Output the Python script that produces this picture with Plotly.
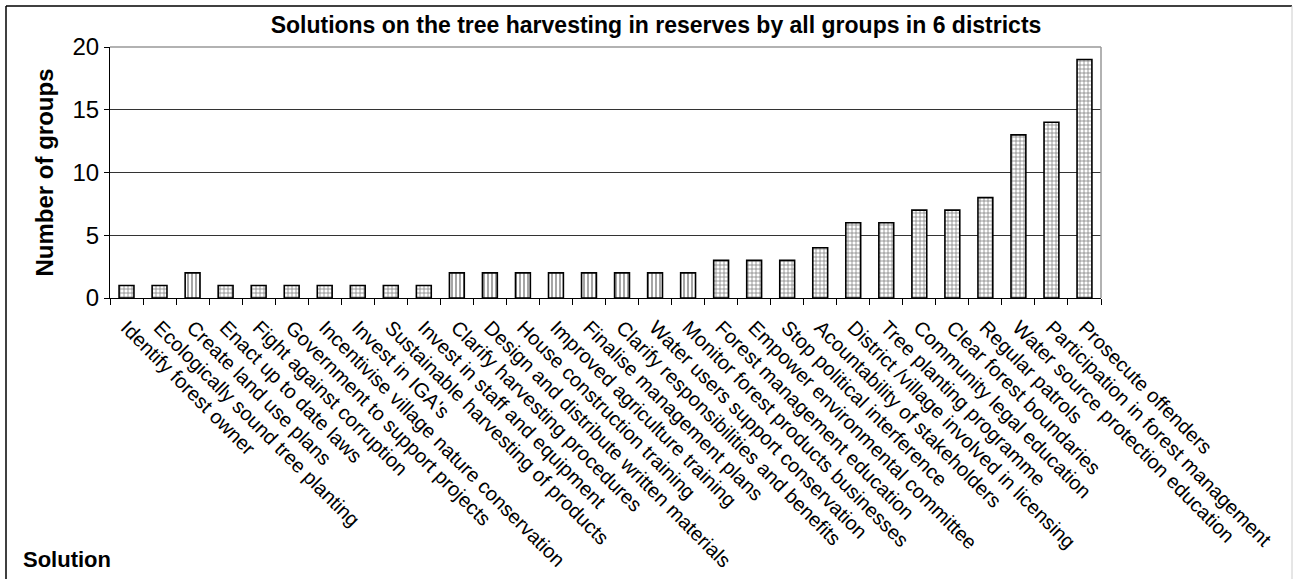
import plotly.graph_objects as go

solutions = [
    "Identify forest owner",
    "Ecologically sound tree planting",
    "Create land use plans",
    "Enact up to date laws",
    "Fight against corruption",
    "Government to support projects",
    "Incentivise village nature conservation",
    "Invest in IGA's",
    "Sustainable harvesting of products",
    "Invest in staff and equipment",
    "Clarify harvesting procedures",
    "Design and distribute written materials",
    "House construction training",
    "Improved agriculture training",
    "Finalise management plans",
    "Clarify responsibilities and benefits",
    "Water users support conservation",
    "Monitor forest products businesses",
    "Forest management education",
    "Empower environmental committee",
    "Stop political interference",
    "Acountability of stakeholders",
    "District /village involved in licensing",
    "Tree planting programme",
    "Community legal education",
    "Clear forest boundaries",
    "Regular patrols",
    "Water source protection education",
    "Participation in forest management",
    "Prosecute offenders",
]
groups = [1, 1, 2, 1, 1, 1, 1, 1, 1, 1,
          2, 2, 2, 2, 2, 2, 2, 2, 3, 3,
          3, 4, 6, 6, 7, 7, 8, 13, 14, 19]
hatch = ["+", "+", "|", "+", "+", "+", "+", "+", "+", "+",
         "|", "|", "|", "|", "|", "|", "|", "|", "+", "+",
         "+", "+", "+", "+", "+", "+", "+", "+", "+", "+"]

W, H = 1293, 579
L, R, T, B = 110, 1101, 47, 298

fig = go.Figure(go.Bar(
    x=solutions,
    y=groups,
    width=0.45,
    marker=dict(
        color="white",
        line=dict(color="black", width=1.6),
        pattern=dict(shape=hatch, fgcolor="black", bgcolor="white",
                     size=4, solidity=0.35),
    ),
    hoverinfo="x+y",
))

def px_x(p):
    return (p - L) / (R - L)

def px_y(p):
    return (B - p) / (B - T)

fig.update_layout(
    width=W, height=H,
    margin=dict(l=L, r=W - R, t=T, b=H - B, autoexpand=False),
    paper_bgcolor="white",
    plot_bgcolor="white",
    showlegend=False,
    font=dict(family="Liberation Sans, Arial, sans-serif", color="black"),
    title=dict(
        text="<b>Solutions on the tree harvesting in reserves by all groups in 6 districts</b>",
        x=656 / W, xanchor="center", xref="container",
        y=1 - 25 / H, yanchor="middle", yref="container",
        font=dict(size=23, color="black"),
    ),
    xaxis=dict(
        type="category",
        tickangle=45,
        tickfont=dict(size=20),
        showline=True, linecolor="black", linewidth=1,
        ticks="outside", ticklen=6, tickcolor="black",
        tickson="boundaries",
        ticklabelstandoff=9,
        showgrid=False,
        automargin=False,
        range=[-0.5, len(solutions) - 0.5],
    ),
    yaxis=dict(
        range=[0, 20],
        tickvals=[0, 5, 10, 15, 20],
        tickfont=dict(size=24),
        showline=True, linecolor="black", linewidth=1,
        ticks="outside", ticklen=5, tickcolor="black",
        showgrid=True, gridcolor="#333333", gridwidth=1,
        zeroline=False,
        automargin=False,
    ),
    annotations=[
        dict(text="<b>Number of groups</b>", textangle=-90,
             x=px_x(44), y=0.5, xref="paper", yref="paper",
             xanchor="center", yanchor="middle", showarrow=False,
             font=dict(size=24)),
        dict(text="<b>Solution</b>",
             x=px_x(21), y=px_y(559), xref="paper", yref="paper",
             xanchor="left", yanchor="middle", showarrow=False,
             font=dict(size=22)),
    ],
    shapes=[
        # plot-area frame on the right and top
        dict(type="line", xref="paper", yref="paper", x0=1, x1=1, y0=0, y1=1,
             line=dict(color="#999999", width=1.5)),
        dict(type="line", xref="paper", yref="paper", x0=0, x1=1, y0=1, y1=1,
             line=dict(color="#999999", width=1.5)),
        # outer chart border
        dict(type="line", xref="paper", yref="paper",
             x0=px_x(6), x1=px_x(1292), y0=px_y(6), y1=px_y(6),
             line=dict(color="black", width=1.5)),
        dict(type="line", xref="paper", yref="paper",
             x0=px_x(6), x1=px_x(6), y0=px_y(6), y1=px_y(600),
             line=dict(color="black", width=1.5)),
        dict(type="line", xref="paper", yref="paper",
             x0=px_x(1292), x1=px_x(1292), y0=px_y(6), y1=px_y(600),
             line=dict(color="#cccccc", width=1)),
    ],
)

fig.write_html("out.html")
